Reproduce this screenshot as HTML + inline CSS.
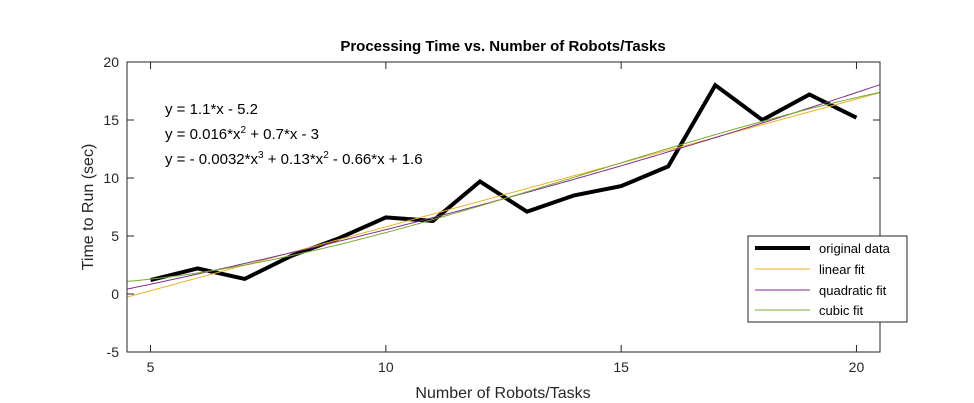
<!DOCTYPE html>
<html><head><meta charset="utf-8"><style>
body{margin:0;background:#fff;}
svg{display:block;font-family:"Liberation Sans",Arial,sans-serif;}
</style></head><body>
<svg id="chart" width="974" height="403">
<rect width="974" height="403" fill="#fff"/>
<text x="503" y="51" text-anchor="middle" font-size="15" font-weight="bold" fill="#000">Processing Time vs. Number of Robots/Tasks</text>
<g id="ticks"></g>
<g id="series"></g>
<rect x="127" y="62" width="753" height="290" fill="none" stroke="#262626" stroke-width="1"/>
<text x="503" y="398" text-anchor="middle" font-size="16" fill="#262626">Number of Robots/Tasks</text>
<text transform="translate(93,207) rotate(-90)" text-anchor="middle" font-size="16" fill="#262626">Time to Run (sec)</text>
<g font-size="15" fill="#000">
<text x="165" y="114">y = 1.1*x - 5.2</text>
<text x="165" y="139">y = 0.016*x<tspan dy="-6" font-size="10">2</tspan><tspan dy="6"> + 0.7*x - 3</tspan></text>
<text x="165" y="164">y = - 0.0032*x<tspan dy="-6" font-size="10">3</tspan><tspan dy="6"> + 0.13*x</tspan><tspan dy="-6" font-size="10">2</tspan><tspan dy="6"> - 0.66*x + 1.6</tspan></text>
</g>
<g>
<rect x="748" y="236" width="159" height="86" fill="#fff" stroke="#262626" stroke-width="1"/>
<line x1="755" y1="248" x2="810" y2="248" stroke="#000" stroke-width="4"/>
<text x="819" y="253" font-size="13" fill="#000">original data</text>
<line x1="755" y1="269" x2="810" y2="269" stroke="#EDB120" stroke-width="1"/>
<text x="819" y="274" font-size="13" fill="#000">linear fit</text>
<line x1="755" y1="290" x2="810" y2="290" stroke="#7E2F8E" stroke-width="1"/>
<text x="819" y="295" font-size="13" fill="#000">quadratic fit</text>
<line x1="755" y1="310" x2="810" y2="310" stroke="#77AC30" stroke-width="1"/>
<text x="819" y="315" font-size="13" fill="#000">cubic fit</text>
</g>
</svg>
<script>
const xValues=[5,6,7,8,9,10,11,12,13,14,15,16,17,18,19,20];
const yValues=[1.2,2.2,1.3,3.3,4.8,6.6,6.3,9.7,7.1,8.5,9.3,11,18,15,17.2,15.2];
const xTicks=[5,10,15,20];
const yTicks=[-5,0,5,10,15,20];
const NS="http://www.w3.org/2000/svg";
const X0=127,X1=880,Y0=352,Y1=62,xmin=4.5,xmax=20.5,ymin=-5,ymax=20;
const sx=v=>X0+(v-xmin)/(xmax-xmin)*(X1-X0);
const sy=v=>Y0-(v-ymin)/(ymax-ymin)*(Y0-Y1);
const poly=(c,x)=>c.reduce((a,k)=>a*x+k,0);
function polyfit(xs,ys,deg){
 const n=deg+1,A=[],b=[];
 for(let i=0;i<n;i++){A.push([]);for(let j=0;j<n;j++){let s=0;xs.forEach(x=>s+=Math.pow(x,i+j));A[i].push(s);}let t=0;xs.forEach((x,k)=>t+=ys[k]*Math.pow(x,i));b.push(t);}
 for(let c=0;c<n;c++){let p=c;for(let r=c+1;r<n;r++)if(Math.abs(A[r][c])>Math.abs(A[p][c]))p=r;[A[c],A[p]]=[A[p],A[c]];[b[c],b[p]]=[b[p],b[c]];
  for(let r=0;r<n;r++){if(r===c)continue;const f=A[r][c]/A[c][c];for(let k=c;k<n;k++)A[r][k]-=f*A[c][k];b[r]-=f*b[c];}}
 const coef=b.map((v,i)=>v/A[i][i]);return coef.reverse();
}
const tg=document.getElementById('ticks'),sg=document.getElementById('series');
xTicks.forEach(t=>{
 const l=document.createElementNS(NS,'path');
 l.setAttribute('d',`M${sx(t)},${Y0}v-7M${sx(t)},${Y1}v7`);
 l.setAttribute('stroke','#262626');
 
 
 tg.appendChild(l);
 const tx=document.createElementNS(NS,'text');
 tx.setAttribute('x',sx(t));tx.setAttribute('y',Y0+20);tx.setAttribute('text-anchor','middle');
 tx.setAttribute('font-size','14');tx.setAttribute('fill','#262626');tx.textContent=t;
 
 
 tg.appendChild(tx);
});
yTicks.forEach(t=>{
 const l=document.createElementNS(NS,'path');
 l.setAttribute('d',`M${X0},${sy(t)}h7M${X1},${sy(t)}h-7`);
 l.setAttribute('stroke','#262626');
 
 
 tg.appendChild(l);
 const tx=document.createElementNS(NS,'text');
 tx.setAttribute('x',X0-8);tx.setAttribute('y',sy(t)+5);tx.setAttribute('text-anchor','end');
 tx.setAttribute('font-size','14');tx.setAttribute('fill','#262626');tx.textContent=t;
 
 
 tg.appendChild(tx);
});
function fitLine(c,color,name){
 let d='';
 for(let i=0;i<=160;i++){const x=xmin+(xmax-xmin)*i/160;d+=(i?'L':'M')+sx(x).toFixed(1)+','+sy(poly(c,x)).toFixed(1);}
 const p=document.createElementNS(NS,'path');
 p.setAttribute('d',d);p.setAttribute('fill','none');p.setAttribute('stroke',color);p.setAttribute('stroke-width','1');
 
 
 sg.appendChild(p);
}
const dp=document.createElementNS(NS,'path');
dp.setAttribute('d',xValues.map((x,i)=>(i?'L':'M')+sx(x)+','+sy(yValues[i])).join(''));
dp.setAttribute('fill','none');dp.setAttribute('stroke','#000');dp.setAttribute('stroke-width','4');


sg.appendChild(dp);
fitLine(polyfit(xValues,yValues,1),'#EDB120','linear-fit-line');
fitLine(polyfit(xValues,yValues,2),'#7E2F8E','quadratic-fit-line');
fitLine(polyfit(xValues,yValues,3),'#77AC30','cubic-fit-line');
</script>
</body></html>
